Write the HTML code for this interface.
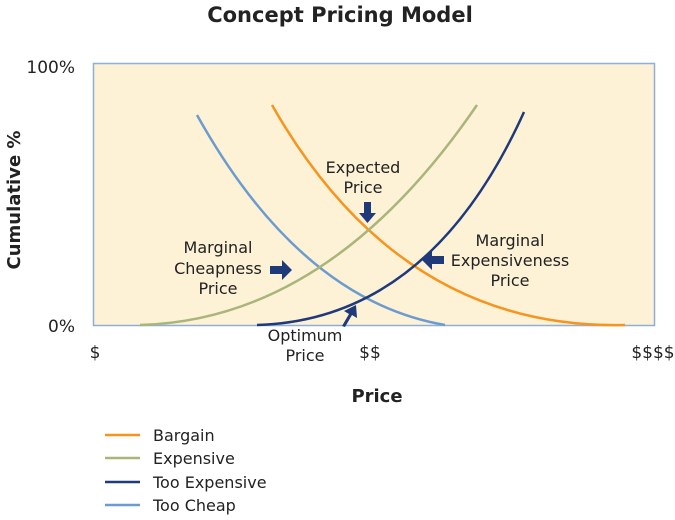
<!DOCTYPE html>
<html><head><style>
body{margin:0;background:#fff;}
svg text{font-family:"DejaVu Sans","Liberation Sans",sans-serif;fill:#222;}
</style></head><body>
<svg width="675" height="515" viewBox="0 0 675 515" xmlns="http://www.w3.org/2000/svg">
<rect x="0" y="0" width="675" height="515" fill="#fff"/>
<text x="340" y="22" text-anchor="middle" font-size="21" font-weight="bold" fill="#000">Concept Pricing Model</text>
<rect x="93.5" y="63.5" width="561" height="262" fill="#fdf1d6" stroke="#8eaedb" stroke-width="1.5"/>
<g fill="none" stroke-width="2.5">
<path d="M197,115 Q300,300 445,325" stroke="#6c9ccf"/>
<path d="M272,105 Q400,330 625,325" stroke="#f7941d"/>
<path d="M140,325 Q330,320 477,105" stroke="#a9b57a"/>
<path d="M257,325 Q430,320 524,112" stroke="#1f3a7a"/>
</g>
<g fill="#1f3a7a">
<path d="M364,202 h7 v11 h5 l-8.5,10 l-8.5,-10 h5 z"/>
<path d="M270,266 h12 v-6 l10,10 l-10,10 v-6 h-12 z"/>
<path d="M444,256 h-12 v-6 l-10,10 l10,10 v-6 h12 z"/>
<path d="M342,326 l7,-12 l-5,-3 l12,-6 l1,13 l-5,-3 l-7,12 z"/>
</g>
<g font-size="16" text-anchor="middle">
<text x="363" y="173">Expected</text><text x="363" y="193">Price</text>
<text x="218" y="253">Marginal</text><text x="218" y="274">Cheapness</text><text x="218" y="294">Price</text>
<text x="510" y="246">Marginal</text><text x="510" y="266">Expensiveness</text><text x="510" y="286">Price</text>
<text x="305" y="341">Optimum</text><text x="305" y="361">Price</text>
</g>
<g font-size="17">
<text x="75" y="73" text-anchor="end">100%</text>
<text x="75" y="332" text-anchor="end">0%</text>
<text x="95" y="358" text-anchor="middle">$</text>
<text x="370" y="358" text-anchor="middle">$$</text>
<text x="653" y="358" text-anchor="middle">$$$$</text>
</g>
<text x="377" y="402" text-anchor="middle" font-size="18" font-weight="bold" fill="#000">Price</text>
<text transform="translate(20,200) rotate(-90)" text-anchor="middle" font-size="18" font-weight="bold" fill="#000">Cumulative %</text>
<g stroke-width="2.5">
<line x1="105" y1="435" x2="140" y2="435" stroke="#f7941d"/>
<line x1="105" y1="458" x2="140" y2="458" stroke="#a9b57a"/>
<line x1="105" y1="482" x2="140" y2="482" stroke="#1f3a7a"/>
<line x1="105" y1="505" x2="140" y2="505" stroke="#6c9ccf"/>
</g>
<g font-size="16">
<text x="153" y="441">Bargain</text>
<text x="153" y="464">Expensive</text>
<text x="153" y="488">Too Expensive</text>
<text x="153" y="511">Too Cheap</text>
</g>
</svg>
</body></html>
